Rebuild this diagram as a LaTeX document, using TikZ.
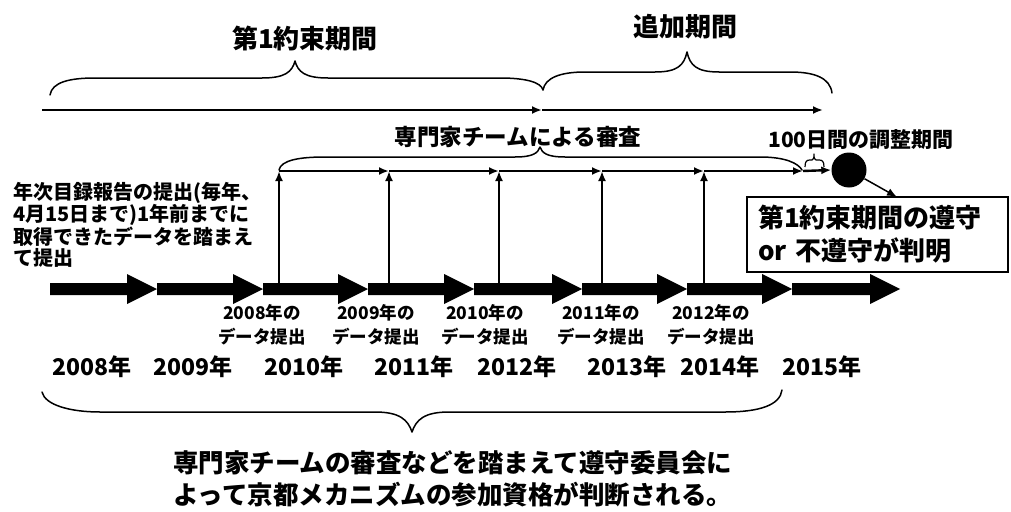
\documentclass[tikz,border=0pt]{standalone}
\usepackage{fontspec}
\setmainfont{Noto Sans CJK JP}
\usetikzlibrary{arrows.meta,calc}
\newcommand{\myfs}[1]{\fontsize{#1}{#1}\selectfont}
\newcommand{\myfsl}[2]{\fontsize{#1}{#2}\selectfont}
\begin{document}
\begin{tikzpicture}[x=1pt,y=-1pt,
  txt/.style={inner sep=0pt, font=\bfseries},
  thinl/.style={line width=2.4pt},
  tipa/.style={-{Latex[length=10pt,width=8pt]}},
  brc/.style={line width=1.5pt, line join=round, line cap=round},
  fatarrow/.style={fill=black}]
\useasboundingbox (0,0) rectangle (1011,511);

% titles
\node[txt, font={\bfseries\myfs{26}}] (t1) at (305,39) {第1約束期間};
\node[txt, font={\bfseries\myfs{26}}] (t2) at (685,27) {追加期間};

% top braces
\draw[brc] (50,95) .. controls (52,82) and (70,78) .. (95,78) -- (262,78)
  .. controls (285,78) and (292,72) .. (295,61)
  .. controls (298,72) and (305,78) .. (328,78) -- (500,78)
  .. controls (525,78) and (541,82) .. (543,90);
\draw[brc] (543,90) .. controls (545,78) and (560,72) .. (585,72) -- (655,72)
  .. controls (678,72) and (684,65) .. (687,52)
  .. controls (690,65) and (696,72) .. (719,72) -- (790,72)
  .. controls (815,72) and (830,78) .. (832,93);

% long arrow
\coordinate (la) at (42,110);
\coordinate (lm) at (542,110);
\coordinate (lb) at (823,110);
\draw[line width=2.5pt, tipa] (la) -- (lm);
\draw[line width=2.5pt, tipa] (lm) -- (lb);

% review text and brace
\node[txt, font={\bfseries\myfs{22.5}}] (rv) at (518,137) {専門家チームによる審査};
\draw[brc] (279,170) .. controls (281,160) and (300,157) .. (325,157) -- (515,157)
  .. controls (533,157) and (538,153) .. (540,147)
  .. controls (542,153) and (547,157) .. (565,157) -- (760,157)
  .. controls (785,157) and (798,163) .. (802,170);

% 100 days
\node[txt, font={\bfseries\myfs{21}}] (hd) at (861,140) {100日間の調整期間};
\draw[line width=1.2pt, line join=round] (805,167) .. controls (805,161) and (807,160) .. (810,160) -- (812,160)
  .. controls (813.5,160) and (814,158) .. (814,154)
  .. controls (814,158) and (814.5,160) .. (816,160) -- (819,160)
  .. controls (822,160) and (824,161) .. (824,167);

% circle and result box
\node[circle, fill=black, inner sep=0pt, minimum size=35pt] (c) at (849,170) {};
\node[draw, line width=2pt, minimum width=261pt, minimum height=75pt,
  inner xsep=10pt, text width=239pt, align=left, font={\bfseries\myfsl{26}{33}}]
  (box) at (877.5,234.5) {第1約束期間の遵守\\or 不遵守が判明};
\coordinate (bx) at (897,197);
\draw[line width=1.5pt, tipa] (c) -- (bx);

% left paragraph
\node[txt, anchor=north west, align=left, font={\bfseries\myfsl{20}{21}}] (para) at (13,182)
  {年次目録報告の提出(毎年、\\4月15日まで)1年前までに\\取得できたデータを踏まえ\\て提出};

% fat arrows
\foreach \a/\b in {50/157,157/263,263/368,368/474,474/582,582/687,687/792,792/900}
  \fill[fatarrow] (\a,283) -- (\b-30,283) -- (\b-30,274) -- (\b,289) -- (\b-30,304) -- (\b-30,295) -- (\a,295) -- cycle;

% vertical and horizontal review arrows
\foreach \x [count=\i] in {279,389,499,602,704} {
  \coordinate (v\i) at (\x,283);
  \coordinate (h\i) at (\x,171);
}
\coordinate (h6) at (803,171);
\foreach \i in {1,...,5} \draw[thinl, tipa] (v\i) -- (h\i);
\draw[thinl, tipa] (h1) -- (h2);
\draw[thinl, tipa] (h2) -- (h3);
\draw[thinl, tipa] (h3) -- (h4);
\draw[thinl, tipa] (h4) -- (h5);
\draw[thinl, tipa] (h5) -- (h6);
\draw[thinl, tipa] (h6) -- (c.west);

% data labels
\foreach \xx/\yy [count=\i] in {262/2008,376/2009,485/2010,601/2011,711/2012}
  \node[txt, align=center, font={\bfseries\myfsl{17.5}{24}}] (d\i) at (\xx,325) {{\yy}年の\\データ提出};

% year labels
\foreach \xx/\yy [count=\i] in {92/2008,193/2009,304/2010,414/2011,517/2012,627/2013,720/2014,822/2015}
  \node[txt, font={\bfseries\myfs{23}}] (y\i) at (\xx,367) {{\yy}年};

% bottom brace
\draw[brc] (42,392) .. controls (45,405) and (70,412) .. (100,412) -- (375,412)
  .. controls (400,412) and (408,420) .. (412,432)
  .. controls (416,420) and (424,412) .. (449,412) -- (725,412)
  .. controls (760,412) and (780,405) .. (782,390);

% bottom text
\node[txt, anchor=north west, align=left, font={\bfseries\myfsl{25.5}{32}}] (bt) at (173,450)
  {専門家チームの審査などを踏まえて遵守委員会に\\よって京都メカニズムの参加資格が判断される。};
\end{tikzpicture}
\end{document}
